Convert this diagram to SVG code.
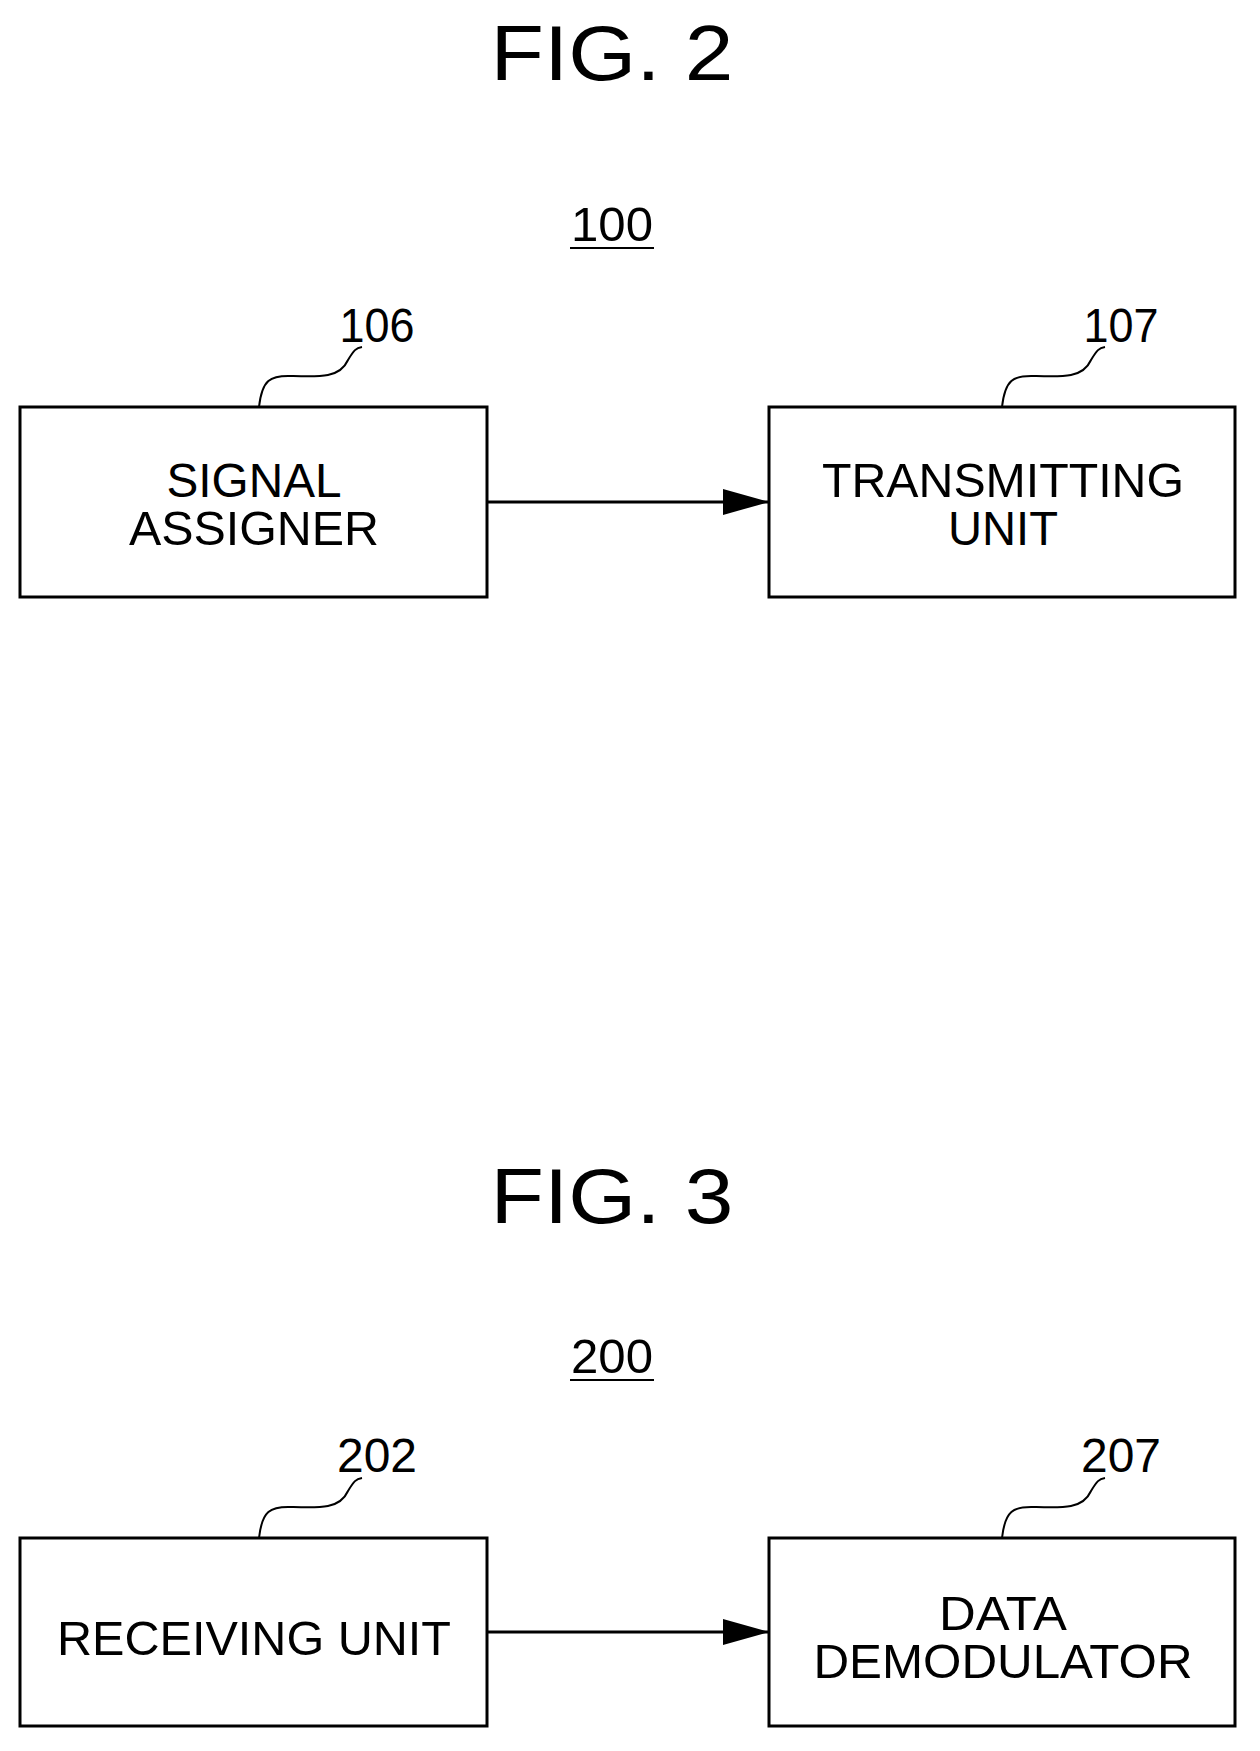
<svg xmlns="http://www.w3.org/2000/svg" width="1260" height="1751" viewBox="0 0 1260 1751">
<style>
text{font-family:"Liberation Sans",Arial,sans-serif;fill:#000;text-anchor:middle}
.fig{font-size:78px}
.lab{font-size:48px}
.box{fill:#fff;stroke:#000;stroke-width:3}
.ln{fill:none;stroke:#000;stroke-width:2}
</style>
<defs>
<marker id="a2" viewBox="0 0 46 26" refX="46" refY="13" markerWidth="46" markerHeight="26" orient="auto" markerUnits="userSpaceOnUse"><path d="M0,0 L46,13 L0,26z"/></marker></defs>
<rect width="1260" height="1751" fill="#fff"/>
<text class="fig" x="612" y="80" textLength="243" lengthAdjust="spacingAndGlyphs">FIG. 2</text>
<g id="ref100"><text class="lab" x="612" y="241" textLength="82" lengthAdjust="spacingAndGlyphs">100</text><line class="ln" x1="570" y1="248" x2="654" y2="248"/></g>
<g id="n106"><rect class="box" x="20" y="407" width="467" height="190"/>
<text class="lab" x="254" y="497" textLength="175" lengthAdjust="spacingAndGlyphs">SIGNAL</text>
<text class="lab" x="254" y="545" textLength="250" lengthAdjust="spacingAndGlyphs">ASSIGNER</text>
<text class="lab" x="377" y="342" textLength="75" lengthAdjust="spacingAndGlyphs">106</text>
<path class="ln" d="M259,407 C262,380 270,375 292,376 C320,377 340,378 348,360 C354,350 356,348 362,347"/></g>
<g id="n107"><rect class="box" x="769" y="407" width="466" height="190"/>
<text class="lab" x="1003" y="497" textLength="362" lengthAdjust="spacingAndGlyphs">TRANSMITTING</text>
<text class="lab" x="1003" y="545" textLength="110" lengthAdjust="spacingAndGlyphs">UNIT</text>
<text class="lab" x="1121" y="342" textLength="75" lengthAdjust="spacingAndGlyphs">107</text>
<path class="ln" d="M1002,407 C1005,380 1013,375 1035,376 C1063,377 1083,378 1091,360 C1097,350 1099,348 1105,347"/></g>
<text class="fig" x="612" y="1223" textLength="243" lengthAdjust="spacingAndGlyphs">FIG. 3</text>
<g id="ref200"><text class="lab" x="612" y="1373" textLength="82" lengthAdjust="spacingAndGlyphs">200</text><line class="ln" x1="570" y1="1380" x2="654" y2="1380"/></g>
<g id="n202"><rect class="box" x="20" y="1538" width="467" height="188"/>
<text class="lab" x="254" y="1655" textLength="394" lengthAdjust="spacingAndGlyphs">RECEIVING UNIT</text>
<text class="lab" x="377" y="1472" textLength="80" lengthAdjust="spacingAndGlyphs">202</text>
<path class="ln" d="M259,1538 C262,1511 270,1506 292,1507 C320,1508 340,1509 348,1491 C354,1481 356,1479 362,1478"/></g>
<g id="n207"><rect class="box" x="769" y="1538" width="466" height="188"/>
<text class="lab" x="1003" y="1630" textLength="128" lengthAdjust="spacingAndGlyphs">DATA</text>
<text class="lab" x="1003" y="1678" textLength="379" lengthAdjust="spacingAndGlyphs">DEMODULATOR</text>
<text class="lab" x="1121" y="1472" textLength="80" lengthAdjust="spacingAndGlyphs">207</text>
<path class="ln" d="M1002,1538 C1005,1511 1013,1506 1035,1507 C1063,1508 1083,1509 1091,1491 C1097,1481 1099,1479 1105,1478"/></g>
<g id="connectors">
<line x1="487" y1="502" x2="769" y2="502" stroke="#000" stroke-width="3" marker-end="url(#a2)"/>
<line x1="487" y1="1632" x2="769" y2="1632" stroke="#000" stroke-width="3" marker-end="url(#a2)"/>
</g>
</svg>
